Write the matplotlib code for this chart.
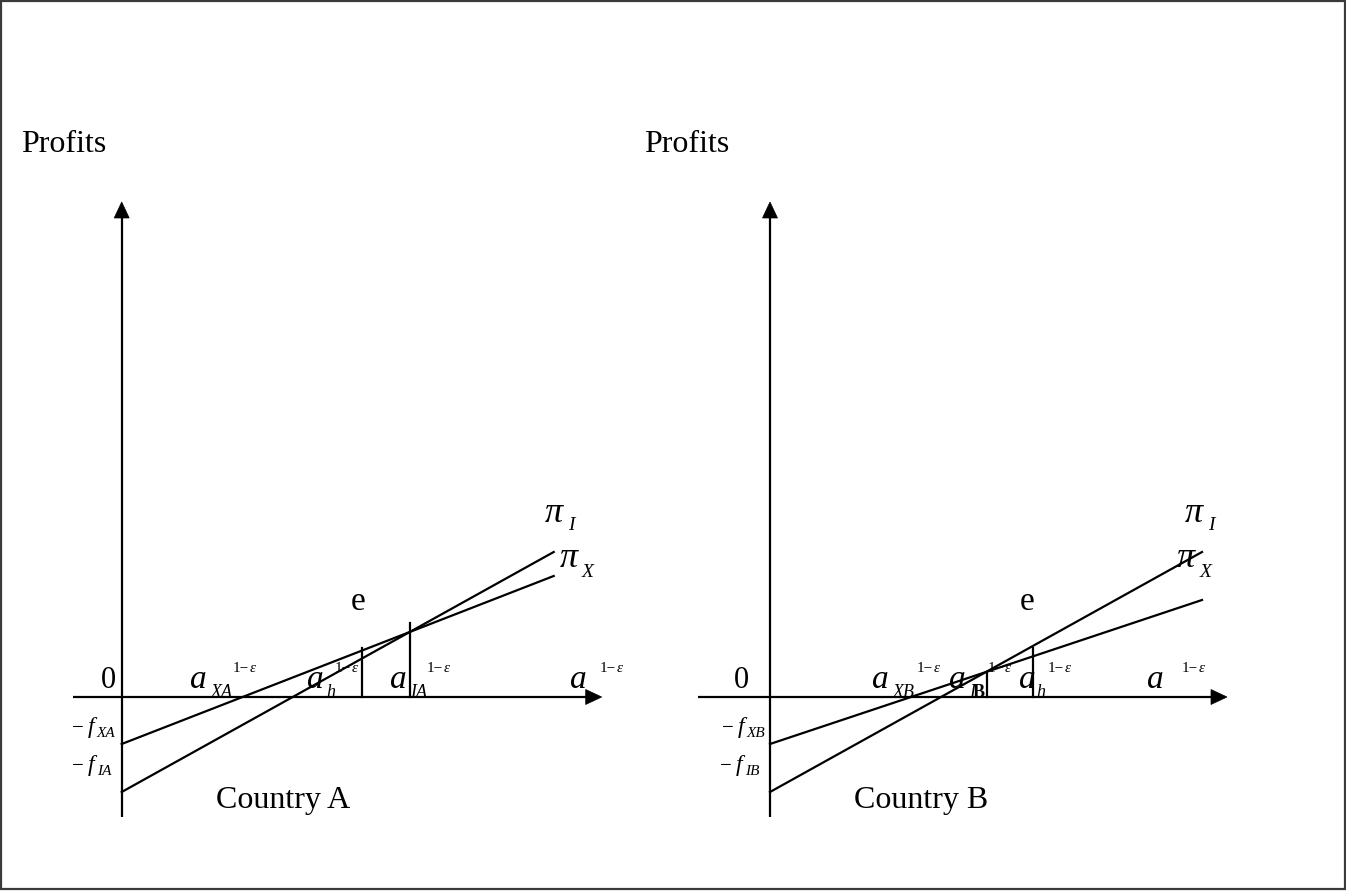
import matplotlib
matplotlib.use("Agg")
import matplotlib.pyplot as plt
from matplotlib.patches import Polygon, Rectangle

W, H = 1346, 891
FONT = "Liberation Serif"

# ---------------- data (panel units: origin at the axes cross, y upward) -------------
countries = ["Country A", "Country B"]
fixed_cost_X = [47, 47]          # -f_X intercept (pi_X at a^(1-e)=0)
fixed_cost_I = [95, 95]          # -f_I intercept (pi_I at a^(1-e)=0)
line_end = [432, 432]            # right end of the profit lines
profit_X_end = [121, 97]         # pi_X at the right end
profit_I_end = [145, 145]        # pi_I at the right end
cutoff_x = [[240, 288], [217, 263]]     # vertical cut-off markers
cutoff_h = [[49, 74], [25, 49]]
yaxis_range = [-120, 495]
xaxis_range = [[-49, 480], [-72, 457]]

# ---------------- layout ----------------
origin_x = [121.7, 770.0]
origin_y = 697.0
LW = 1.6

fig = plt.figure(figsize=(W / 100, H / 100), dpi=100)
ax = fig.add_axes([0, 0, 1, 1])
ax.set_xlim(0, W)
ax.set_ylim(H, 0)
ax.axis("off")
renderer = fig.canvas.get_renderer()

ax.add_patch(Rectangle((1, 1), W - 2.5, H - 3, fill=False, ec="#3a3a3a", lw=1.6, zorder=5))


def P(i, x, y):
    return origin_x[i] + x, origin_y - y


def arrow_head(tip, direction):
    tx, ty = tip
    L, hw = 16, 7.5
    if direction == "up":
        pts = [(tx, ty), (tx - hw, ty + L), (tx + hw, ty + L)]
    else:
        pts = [(tx, ty), (tx - L, ty - hw), (tx - L, ty + hw)]
    ax.add_patch(Polygon(pts, closed=True, fc="black", ec="black", lw=0.5, zorder=4))


for i in range(2):
    # axes
    x0, y0 = P(i, 0, yaxis_range[0])
    x1, y1 = P(i, 0, yaxis_range[1])
    ax.plot([x0, x1], [y0, y1 + 14], color="black", lw=LW, zorder=3, solid_capstyle="butt")
    arrow_head((x1, y1), "up")
    xa0, ya0 = P(i, xaxis_range[i][0], 0)
    xa1, ya1 = P(i, xaxis_range[i][1], 0)
    ax.plot([xa0, xa1 - 14], [ya0, ya1], color="black", lw=LW, zorder=3, solid_capstyle="butt")
    arrow_head((xa1, ya1), "right")

    # profit lines
    for f, yend in ((fixed_cost_X[i], profit_X_end[i]), (fixed_cost_I[i], profit_I_end[i])):
        xs = [P(i, 0, -f)[0], P(i, line_end[i], yend)[0]]
        ys = [P(i, 0, -f)[1], P(i, line_end[i], yend)[1]]
        ax.plot(xs, ys, color="black", lw=LW, zorder=3)

    # cut-off markers
    for cx, ch in zip(cutoff_x[i], cutoff_h[i]):
        bx, by = P(i, cx, 0)
        tx, ty = P(i, cx, ch)
        ax.plot([bx, tx], [by, ty], color="black", lw=LW, zorder=3)


def T(x, y, s, size, style="normal", weight="normal"):
    return ax.text(x, y, s, fontsize=size, fontstyle=style, fontweight=weight,
                   family=FONT, ha="left", va="baseline", zorder=2)


def SUPER(x, y, size=11):
    t = T(x, y, "1\u2212", size)
    x_end = t.get_window_extent(renderer).x1
    T(x_end + 0.5, y, "\u03b5", size, "italic")


A_SIZE = 24
SUB = 13
PI = 26

# ---------------- panel A labels ----------------
T(21, 152, "Profits", 23)
T(101, 688, "0", 22)
T(351, 610, "e", 24)
T(216, 808, countries[0], 23)
T(190, 688, "a", A_SIZE, "italic"); T(211, 697, "XA", SUB, "italic"); SUPER(233, 672)
T(307, 688, "a", A_SIZE, "italic"); T(326, 697, "h", SUB, "italic"); SUPER(335, 672)
T(390, 688, "a", A_SIZE, "italic"); T(410, 697, "IA", SUB, "italic"); SUPER(427, 672)
T(570, 688, "a", A_SIZE, "italic"); SUPER(600, 672)
T(545, 522, "\u03c0", PI, "italic"); T(568, 530, "I", 14, "italic")
T(560, 567, "\u03c0", PI, "italic"); T(582, 577, "X", 14, "italic")
T(72, 733, "\u2212", 15); T(88, 733, "f", 17, "italic"); T(97, 737, "XA", 11, "italic")
T(72, 771, "\u2212", 15); T(88, 771, "f", 17, "italic"); T(97, 775, "IA", 11, "italic")

# ---------------- panel B labels ----------------
T(644, 152, "Profits", 23)
T(734, 688, "0", 22)
T(1020, 610, "e", 24)
T(854, 808, countries[1], 23)
T(872, 688, "a", A_SIZE, "italic"); T(893, 697, "XB", SUB, "italic"); SUPER(917, 672)
T(949, 688, "a", A_SIZE, "italic"); T(969, 697, "I", SUB, "italic"); T(973, 697, "B", SUB, "normal", "bold"); SUPER(988, 672)
T(1019, 688, "a", A_SIZE, "italic"); T(1036, 697, "h", SUB, "italic"); SUPER(1048, 672)
T(1147, 688, "a", A_SIZE, "italic"); SUPER(1182, 672)
T(1185, 522, "\u03c0", PI, "italic"); T(1208, 530, "I", 14, "italic")
T(1177, 567, "\u03c0", PI, "italic"); T(1200, 577, "X", 14, "italic")
T(722, 733, "\u2212", 15); T(738, 733, "f", 17, "italic"); T(747, 737, "XB", 11, "italic")
T(720, 771, "\u2212", 15); T(736, 771, "f", 17, "italic"); T(745, 775, "IB", 11, "italic")

fig.savefig("out.png", dpi=100)
